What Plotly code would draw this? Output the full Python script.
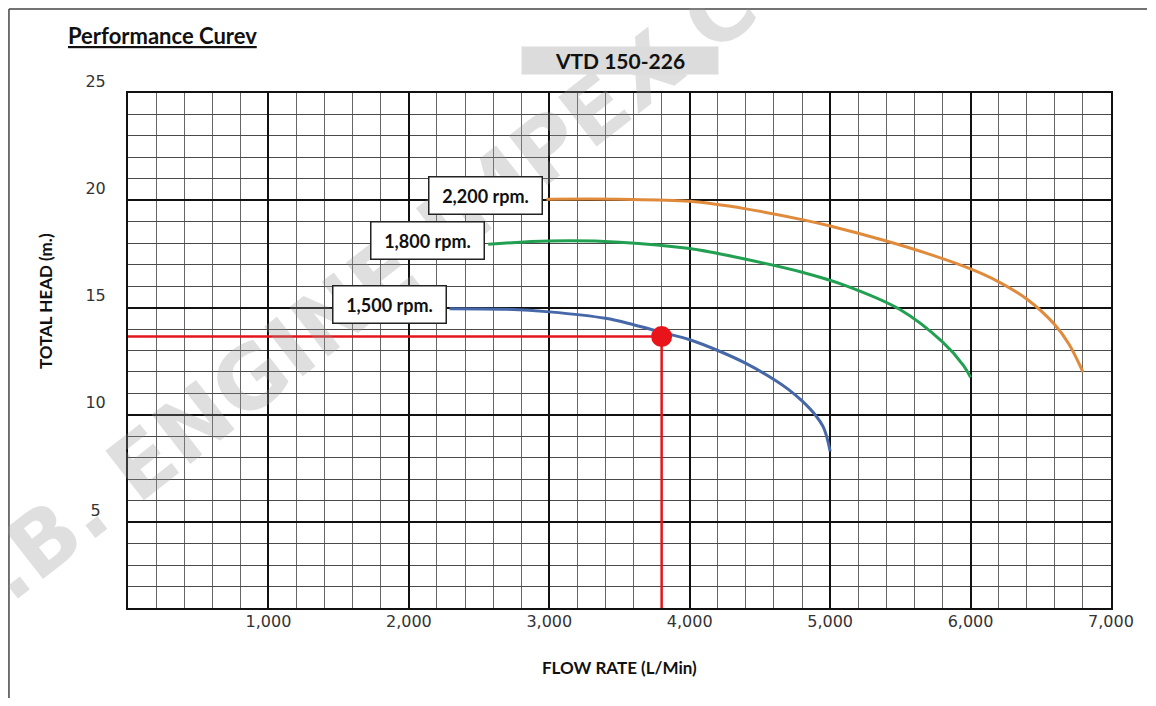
import plotly.graph_objects as go

# ---- data ----
rpm_labels = ["1,500 rpm.", "1,800 rpm.", "2,200 rpm."]

flow_1500 = [2290, 2700, 3000, 3400, 3600, 3800, 4000, 4200, 4400, 4600, 4700, 4800, 4900, 4950, 4975, 5000]
head_1500 = [14.95, 14.92, 14.8, 14.5, 14.2, 13.85, 13.5, 13.0, 12.4, 11.65, 11.2, 10.65, 9.95, 9.45, 9.0, 8.3]

flow_1800 = [2565, 3000, 3500, 4000, 4400, 4800, 5100, 5500, 5800, 5950, 6000]
head_1800 = [17.95, 18.1, 18.05, 17.75, 17.25, 16.65, 16.05, 14.9, 13.4, 12.3, 11.75]

flow_2200 = [2980, 3500, 4000, 4400, 4800, 5000, 5400, 5700, 6000, 6200, 6400, 6600, 6700, 6800]
head_2200 = [20.05, 20.05, 19.95, 19.6, 19.1, 18.8, 18.1, 17.5, 16.8, 16.2, 15.4, 14.2, 13.3, 12.0]

op_flow = 3800
op_head = 13.65

x_tickvals = [1000, 2000, 3000, 4000, 5000, 6000, 7000]
x_ticktext = ["1,000", "2,000", "3,000", "4,000", "5,000", "6,000", "7,000"]
y_tickvals = [5, 10, 15, 20, 25]
y_ticktext = ["5\u00a0", "10", "15", "20", "25"]

colors = ["#4668A8", "#22A052", "#E08A3C"]
series = [(flow_1500, head_1500), (flow_1800, head_1800), (flow_2200, head_2200)]

fig = go.Figure()

# watermark (drawn first)
fig.add_annotation(x=0.261, y=0.649, xref="paper", yref="paper",
                   text="<b>S.B. ENGINE IMPEX CO.</b>", showarrow=False,
                   xanchor="center", yanchor="middle",
                   textangle=-38, font=dict(family="DejaVu Sans", size=86,
                                            color="rgba(150,150,150,0.3)"))

for (fx, hy), c, name in zip(series, colors, rpm_labels):
    fig.add_trace(go.Scatter(x=fx, y=hy, mode="lines", name=name,
                             line=dict(color=c, width=3, shape="spline", smoothing=1.0),
                             showlegend=False, hoverinfo="x+y+name"))

# operating point guide lines
fig.add_trace(go.Scatter(x=[0, op_flow, op_flow], y=[op_head, op_head, 1],
                         mode="lines", line=dict(color="#E3161C", width=2.5),
                         showlegend=False, hoverinfo="skip"))
fig.add_trace(go.Scatter(x=[op_flow], y=[op_head], mode="markers",
                         marker=dict(color="#E8141A", size=21),
                         showlegend=False))

label_font = dict(family="Lato, Open Sans, sans-serif", size=18, color="#111")
for (fx, hy), name in zip(series, rpm_labels):
    fig.add_annotation(x=fx[0], y=hy[0], xref="x", yref="y", text="<b>%s</b>" % name,
                       showarrow=False, xanchor="right", yanchor="middle",
                       xshift=-3, yshift=4, font=label_font,
                       bgcolor="white", bordercolor="#222", borderwidth=1.5,
                       borderpad=2, width=108, height=32)

# titles
fig.add_annotation(x=-0.0631, y=1.1126, xref="paper", yref="paper",
                   text="<u><b>Performance Curev</b></u>", showarrow=False,
                   xanchor="left", yanchor="middle",
                   font=dict(family="Lato, sans-serif", size=22, color="#111"))
fig.add_annotation(x=0.5, y=1.064, xref="paper", yref="paper",
                   text="<b>VTD 150-226</b>", showarrow=False,
                   xanchor="center", yanchor="middle", bgcolor="#DCDCDC",
                   width=196, height=27, borderpad=0,
                   font=dict(family="Lato, sans-serif", size=21, color="#111"))
fig.add_annotation(x=0.5, y=-0.1165, xref="paper", yref="paper",
                   text="<b>FLOW RATE (L/Min)</b>", showarrow=False,
                   xanchor="center", yanchor="middle",
                   font=dict(family="Lato, sans-serif", size=17, color="#111"))
fig.add_annotation(x=-0.0844, y=0.596, xref="paper", yref="paper",
                   text="<b>TOTAL HEAD (m.)</b>", showarrow=False, textangle=-90,
                   xanchor="center", yanchor="middle",
                   font=dict(family="Lato, sans-serif", size=17, color="#111"))

# outer frame (top and left edges of the sheet)
fig.add_shape(type="line", xref="paper", yref="paper", x0=-0.1211, y0=1.1631,
              x1=1.0366, y1=1.1631, line=dict(color="#444", width=1.5))
fig.add_shape(type="line", xref="paper", yref="paper", x0=-0.1211, y0=1.1631,
              x1=-0.1211, y1=-0.2, line=dict(color="#444", width=1.5))

tick_font = dict(family="DejaVu Sans", size=16, color="#333")
fig.update_xaxes(range=[0, 7000], tickmode="array", tickvals=x_tickvals, ticktext=x_ticktext,
                 showgrid=True, gridcolor="#111", gridwidth=2, zeroline=False,
                 showline=True, linecolor="#111", linewidth=2, mirror=True,
                 ticks="", tickfont=tick_font, ticklabelstandoff=-2,
                 minor=dict(dtick=200, tick0=0, showgrid=True, gridcolor="#666666",
                            gridwidth=1, ticks=""))
fig.update_yaxes(range=[1, 25], tickmode="array", tickvals=y_tickvals, ticktext=y_ticktext,
                 showgrid=True, gridcolor="#111", gridwidth=2, zeroline=False,
                 showline=True, linecolor="#111", linewidth=2, mirror=True,
                 ticks="", tickfont=tick_font, ticklabelstandoff=17, ticklabelshift=-12,
                 minor=dict(dtick=1, tick0=0, showgrid=True, gridcolor="#4a4a4a",
                            gridwidth=1, ticks=""))

fig.update_layout(width=1140, height=690,
                  margin=dict(l=120, r=37, t=85, b=90),
                  paper_bgcolor="white", plot_bgcolor="white",
                  showlegend=False)

fig.write_html("out.html")
